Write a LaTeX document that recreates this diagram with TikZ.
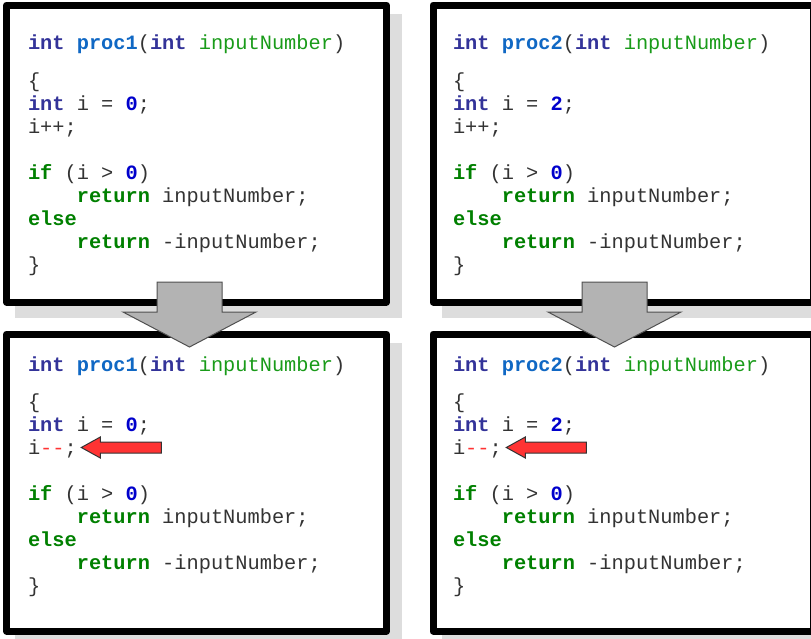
\documentclass[tikz,border=0pt]{standalone}
\usepackage{fontspec}
\setmonofont{Liberation Mono}

\definecolor{typeblue}{RGB}{51,51,153}
\definecolor{funcblue}{RGB}{16,104,196}
\definecolor{arggreen}{RGB}{25,155,25}
\definecolor{numblue}{RGB}{0,0,204}
\definecolor{ctlgreen}{RGB}{0,128,0}
\definecolor{codegray}{RGB}{51,51,51}
\definecolor{changered}{RGB}{255,51,51}
\definecolor{shadowgray}{RGB}{221,221,221}
\definecolor{flowgray}{RGB}{179,179,179}
\definecolor{flowedge}{RGB}{80,80,80}

% syntax colouring
\newcommand\tyword[1]{\textcolor{typeblue}{\bfseries #1}}
\newcommand\fnname[1]{\textcolor{funcblue}{\bfseries #1}}
\newcommand\argname[1]{\textcolor{arggreen}{#1}}
\newcommand\numval[1]{\textcolor{numblue}{\bfseries #1}}
\newcommand\ctlword[1]{\textcolor{ctlgreen}{\bfseries #1}}
\newcommand\chg[1]{\textcolor{changered}{#1}}
\newcommand\codesize{\ttfamily\fontsize{15.25pt}{17pt}\selectfont}

\pgfdeclarelayer{shadows}
\pgfsetlayers{shadows,main}

\tikzset{
  panel/.style={draw=black, fill=white, line width=5.25pt, line join=round,
    minimum width=285pt, minimum height=222.75pt, inner sep=0pt, outer sep=0pt},
  code/.style={anchor=base west, inner sep=0pt, outer sep=0pt, text=codegray, font=\codesize},
  flowarrow/.style={fill=flowgray, draw=flowedge, line width=0.75pt, line join=miter},
  markarrow/.style={fill=changered, draw=black!80, line width=0.75pt, line join=miter}
}

% one listing: #1 name prefix, #2/#3 first baseline, #4 procedure, #5 start value, #6 update line
\newcommand\codepanel[6]{%
  \begin{scope}[shift={(#2,#3)}]
    \node[code] (#1-head)  at (0,0)   {\tyword{int} \fnname{#4}(\tyword{int} \argname{inputNumber})};
    \node[code] (#1-open)  at (0,37)  {\{};
    \node[code] (#1-decl)  at (0,60)  {\tyword{int} i = \numval{#5};};
    \node[code] (#1-step)  at (0,83)  {#6};
    \node[code] (#1-if)    at (0,129) {\ctlword{if} (i > \numval{0})};
    \node[code] (#1-ret1)  at (0,152) {\hphantom{0000}\ctlword{return} inputNumber;};
    \node[code] (#1-else)  at (0,175) {\ctlword{else}};
    \node[code] (#1-ret2)  at (0,198) {\hphantom{0000}\ctlword{return} -inputNumber;};
    \node[code] (#1-close) at (0,221) {\}};
  \end{scope}}

\begin{document}
\begin{tikzpicture}[x=0.75pt, y=-0.75pt]
\useasboundingbox (0,0) rectangle (811,639);

% framed panels
\node[panel] (p1) at (196.5,153.5) {};
\node[panel] (p2) at (623,153.5) {};
\node[panel] (p3) at (196.5,482.5) {};
\node[panel] (p4) at (623,482.5) {};

% flat drop shadows behind the panels
\begin{pgfonlayer}{shadows}
  \foreach \p in {p1,p2,p3,p4}
    \fill[shadowgray] ([shift={(8.5,8.5)}]\p.north west) rectangle ([shift={(15.5,15.5)}]\p.south east);
\end{pgfonlayer}

% listings
\codepanel{c1}{28}{50}{proc1}{0}{i++;}
\codepanel{c2}{453}{50}{proc2}{2}{i++;}
\codepanel{c3}{28}{371}{proc1}{0}{i\chg{-\kern0pt-};}
\codepanel{c4}{453}{371}{proc2}{2}{i\chg{-\kern0pt-};}

% block arrows from the original to the modified listing
\coordinate (f1) at ([shift={(-7,-20)}]p1.south);
\coordinate (f2) at ([shift={(-8.5,-20)}]p2.south);
\foreach \f in {f1,f2}
  \draw[flowarrow] (\f) ++(-32.5,0) -- ++(65,0) -- ++(0,30) -- ++(34,0)
    -- ++(-66.5,35) -- ++(-66.5,-35) -- ++(34,0) -- cycle;

% markers pointing at the changed statement
\coordinate (m3) at ([shift={(4.5,-6.5)}]c3-step.base east);
\coordinate (m4) at ([shift={(4.5,-6.5)}]c4-step.base east);
\foreach \m in {m3,m4}
  \draw[markarrow] (\m) -- ++(19,-10.5) -- ++(0,5) -- ++(61,0) -- ++(0,11)
    -- ++(-61,0) -- ++(0,5) -- cycle;
\end{tikzpicture}
\end{document}
